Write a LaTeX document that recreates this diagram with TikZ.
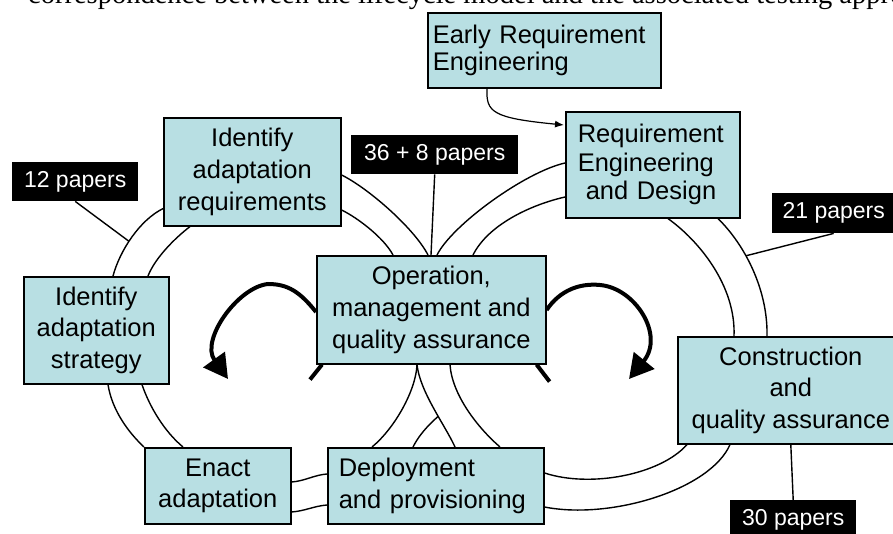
\documentclass[tikz,border=0pt]{standalone}
\usepackage{fontspec}
\setmainfont{Liberation Sans}
\newfontfamily\capserif{Liberation Serif}
\usetikzlibrary{calc,arrows.meta}
\definecolor{boxfill}{RGB}{184,223,227}

\begin{document}
\begin{tikzpicture}[x=1pt, y=-1pt, >={Latex[length=9pt,width=7pt]},
  stage/.style={draw=black, fill=boxfill, line width=1.6pt, inner sep=0pt, anchor=north west,
    align=center, font=\fontsize{25.5}{31.7}\selectfont},
  papers/.style={fill=black, text=white, inner sep=0pt, anchor=north west,
    font=\fontsize{23}{23}\selectfont},
  ring/.style={line width=1.4pt},
  turn/.style={line width=4pt, -{Triangle[length=24pt,width=26pt]}}]

\useasboundingbox (0,0) rectangle (893,534);
\clip (0,0) rectangle (893,534);

% Рядок підпису (обрізаний)
\node[anchor=base west, inner sep=0pt, font=\capserif\fontsize{28.5}{28.5}\selectfont] (capline) at (28,4)
  {correspondence between the lifecycle model and the associated testing approaches};

% Етапи
\node[stage, minimum width=233, minimum height=75, text width=223, align=left,
  font=\fontsize{25.5}{27}\selectfont] (early) at (427,12) {Early Requirement\\Engineering};
\node[stage, minimum width=174, minimum height=106, text width=150, align=left,
  font=\fontsize{25.5}{28.5}\selectfont] (reqd) at (565,111) {Requirement\\Engineering\\\hspace*{8pt}and Design};
\node[stage, minimum width=177, minimum height=108] (ireq) at (163,117) {Identify\\adaptation\\requirements};
\node[stage, minimum width=229, minimum height=108] (opqa) at (316,255) {Operation,\\management and\\quality assurance};
\node[stage, minimum width=145, minimum height=107] (istrat) at (23,276) {Identify\\adaptation\\strategy};
\node[stage, minimum width=226, minimum height=107] (constr) at (677,336) {Construction\\and\\quality assurance};
\node[stage, minimum width=146, minimum height=76] (enact) at (144,447) {Enact\\adaptation};
\node[stage, minimum width=216, minimum height=76, text width=194, align=left] (deploy) at (327,447) {Deployment\\and provisioning};

% Кількість статей
\node[papers, minimum width=126, minimum height=39] (p12) at (12,162) {12 papers};
\node[papers, minimum width=167, minimum height=39] (p36) at (351,135) {36 + 8 papers};
\node[papers, minimum width=123, minimum height=40] (p21) at (772,193) {21 papers};
\node[papers, minimum width=126, minimum height=40] (p30) at (730,500) {30 papers};

% Ліва петля
\draw[ring] ($(ireq.south west)+(0,-18)$) .. controls (140,220) and (120,250) .. ($(istrat.north west)+(90,0)$)
  coordinate[pos=0.56] (c12);
\draw[ring] ($(ireq.south west)+(27,0)$) .. controls (175,238) and (155,258) .. ($(istrat.north west)+(125,0)$);
\draw[ring] ($(istrat.south west)+(85,0)$) .. controls (112,410) and (128,432) .. (enact.north west);
\draw[ring] ($(istrat.south west)+(119,0)$) .. controls (150,408) and (165,432) .. ($(enact.north west)+(39,0)$);
\draw[ring] ($(enact.north east)+(0,35)$) .. controls (305,481) and (314,475) .. ($(deploy.north west)+(0,27)$);
\draw[ring] ($(enact.north east)+(0,65)$) .. controls (305,511) and (314,506) .. ($(deploy.north west)+(0,58)$);
\draw[ring] ($(ireq.north east)+(0,58)$) .. controls (368,188) and (414,228) .. ($(opqa.north west)+(112,0)$);
\draw[ring] ($(ireq.north east)+(0,93)$) .. controls (358,218) and (384,238) .. ($(opqa.north west)+(77,0)$);

% Права петля
\draw[ring] ($(reqd.north west)+(0,52)$) .. controls (525,172) and (452,225) .. ($(opqa.north west)+(121,0)$);
\draw[ring] ($(reqd.north west)+(0,86)$) .. controls (530,205) and (488,225) .. ($(opqa.north west)+(157,0)$);
\draw[ring] ($(reqd.south west)+(103,0)$) .. controls (698,240) and (736,285) .. ($(constr.north west)+(57,0)$);
\draw[ring] ($(reqd.south west)+(153,0)$) .. controls (745,245) and (768,290) .. ($(constr.north west)+(90,0)$)
  coordinate[pos=0.38] (c21);
\draw[ring] ($(constr.south west)+(10,0)$) .. controls (660,475) and (590,488) .. ($(deploy.north east)+(0,26)$);
\draw[ring] ($(constr.south west)+(53,0)$) .. controls (710,490) and (610,520) .. ($(deploy.north east)+(0,60)$);

% Перехрестя внизу
\draw[ring] ($(opqa.south west)+(101,0)$) .. controls (416,390) and (395,428) .. ($(deploy.north west)+(45,0)$);
\draw[ring] ($(opqa.south west)+(101,0)$) .. controls (420,392) and (445,425) .. ($(deploy.north west)+(128,0)$)
  coordinate[pos=0.6] (cx);
\draw[ring] (cx) .. controls (426,427) and (418,437) .. ($(deploy.north west)+(86,0)$);
\draw[ring] ($(opqa.south west)+(134,0)$) .. controls (452,395) and (478,428) .. ($(deploy.north west)+(173,0)$);

% Виноски
\draw[ring] (p12.south) -- (c12);
\draw[ring] (p36.south) -- ($(opqa.north west)+(115,0)$);
\draw[ring] (p21.south) -- (c21);
\draw[ring] (constr.south) -- (p30.north);

% Стрілка від раннього етапу
\draw[->, line width=1.2pt] ($(early.south west)+(60,0)$) .. controls (486,112) and (492,118) .. ($(reqd.north west)+(-1,14)$);

% Товсті стрілки
\draw[turn] ($(opqa.north west)+(0,57)$) .. controls (300,292) and (288,284) .. (268,284)
  .. controls (238,287) and (200,340) .. (228,379);
\draw[turn] ($(opqa.north east)+(0,55)$) .. controls (560,290) and (580,283) .. (600,285)
  .. controls (635,288) and (665,335) .. (629,379);
\draw[line width=4pt] ($(opqa.south west)+(6,0)$) -- ++(-12,15);
\draw[line width=4pt] ($(opqa.south east)+(-10,0)$) -- ++(13,17);

\end{tikzpicture}
\end{document}
